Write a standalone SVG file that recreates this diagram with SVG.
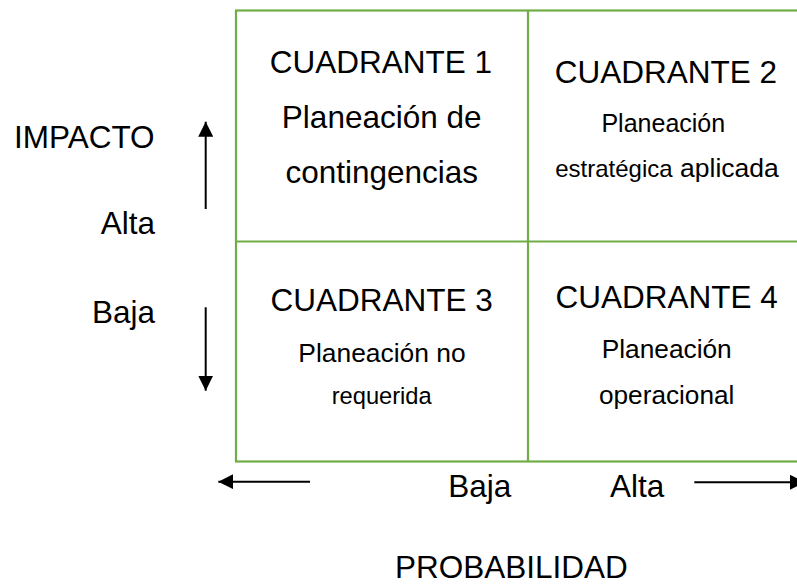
<svg xmlns="http://www.w3.org/2000/svg" width="797" height="585" viewBox="0 0 797 585">
<style>
text{font-family:"Liberation Sans",Arial,sans-serif;fill:#000}
.big{font-size:31.5px}
.mid{text-anchor:middle}
.grid{fill:none;stroke:#70AD47;stroke-width:2.2}
.arr{stroke:#000;stroke-width:2;fill:none;marker-end:url(#ah)}
</style>
<defs>
<marker id="ah" markerUnits="userSpaceOnUse" markerWidth="15" markerHeight="15" refX="15" refY="7.5" orient="auto" viewBox="0 0 15 15">
<path d="M0,0 L15,7.5 L0,15 z" fill="#000"/>
</marker>
</defs>
<g id="grid">
<rect class="grid" x="236" y="10.5" width="600" height="451"/>
<line class="grid" x1="528" y1="10.5" x2="528" y2="461.5"/>
<line class="grid" x1="236" y1="241.5" x2="836" y2="241.5"/>
</g>
<g id="q1">
<text class="big mid" x="381" y="73.3">CUADRANTE 1</text>
<text class="big mid" x="381.7" y="128.3">Planeación de</text>
<text class="big mid" x="381.7" y="182.7">contingencias</text>
</g>
<g id="q2">
<text class="big mid" x="666" y="83.3">CUADRANTE 2</text>
<text class="mid" x="663.3" y="131.7" font-size="25">Planeación</text>
<text class="mid" x="667" y="177"><tspan font-size="24">estratégica</tspan><tspan font-size="26.5"> aplicada</tspan></text>
</g>
<g id="q3">
<text class="big mid" x="381.7" y="311">CUADRANTE 3</text>
<text class="mid" x="382" y="361.7" font-size="26.4">Planeación no</text>
<text class="mid" x="381.7" y="404" font-size="23.7">requerida</text>
</g>
<g id="q4">
<text class="big mid" x="666.7" y="308.3">CUADRANTE 4</text>
<text class="mid" x="666.7" y="358.3" font-size="26.3">Planeación</text>
<text class="mid" x="666.7" y="404" font-size="26.2">operacional</text>
</g>
<g id="labels">
<text class="big" x="14" y="148.3">IMPACTO</text>
<text class="big" x="155" y="234.3" text-anchor="end">Alta</text>
<text class="big" x="155" y="322.7" text-anchor="end">Baja</text>
<text class="big" x="448.3" y="496.7">Baja</text>
<text class="big" x="610" y="496.7">Alta</text>
<text class="big" x="395" y="577.5">PROBABILIDAD</text>
</g>
<g id="connectors">
<line class="arr" x1="205.7" y1="209" x2="205.7" y2="121.7"/>
<line class="arr" x1="205.7" y1="307.3" x2="205.7" y2="390.7"/>
<line class="arr" x1="310" y1="481.7" x2="218.3" y2="481.7"/>
<line class="arr" x1="694.3" y1="482.3" x2="805" y2="482.3"/>
</g>
</svg>
